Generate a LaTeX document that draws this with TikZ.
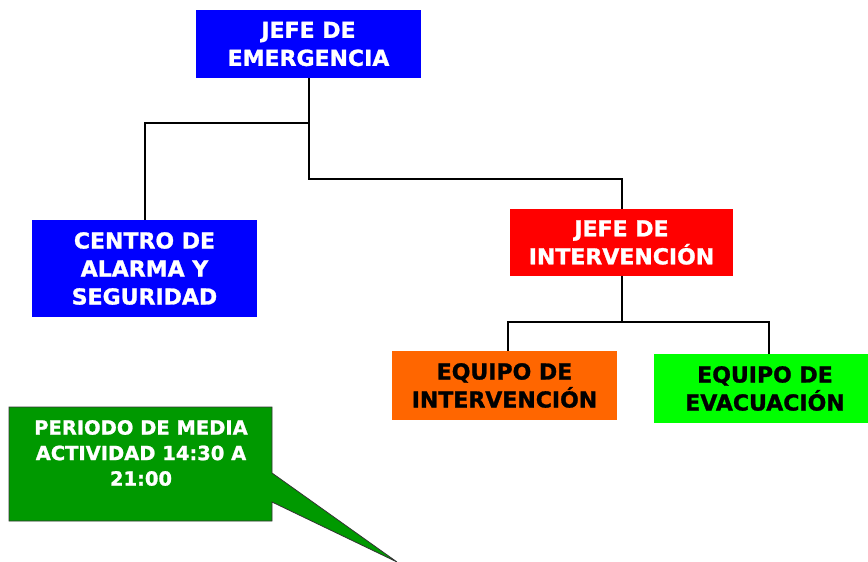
\documentclass[tikz,border=0pt]{standalone}
\usepackage{fontspec}
\setmainfont{DejaVu Sans}[BoldFeatures={FakeBold=1.2}]
\usetikzlibrary{calc}
\definecolor{cblue}{HTML}{0000FF}
\definecolor{cred}{HTML}{FF0000}
\definecolor{corange}{HTML}{FF6600}
\definecolor{clime}{HTML}{00FF00}
\definecolor{cdkgreen}{HTML}{009900}
\tikzset{
  orgbox/.style={inner sep=0pt, align=center, font=\fontsize{22}{28}\selectfont\bfseries},
  conn/.style={line width=2pt, black},
}
\begin{document}
\begin{tikzpicture}[x=1pt,y=-1pt]
\useasboundingbox[fill=white] (0,0) rectangle (868,562);
% boxes
\node[orgbox, fill=cblue, text=white, minimum width=225pt, minimum height=68pt] (jefe) at (308.5,44) {JEFE DE\\EMERGENCIA};
\node[orgbox, fill=cblue, text=white, minimum width=225pt, minimum height=97pt] (centro) at (144.5,268.5) {CENTRO DE\\ALARMA Y\\SEGURIDAD};
\node[orgbox, fill=cred, text=white, minimum width=223pt, minimum height=67pt] (jint) at (621.5,242.5) {JEFE DE\\INTERVENCIÓN};
\node[orgbox, fill=corange, text=black, minimum width=225pt, minimum height=69pt] (eqint) at (504.5,385.5) {EQUIPO DE\\INTERVENCIÓN};
\node[orgbox, fill=clime, text=black, minimum width=214pt, minimum height=69pt] (eqevac) at (761,388.5) {\hspace*{8pt}EQUIPO DE\\\hspace*{8pt}EVACUACIÓN};
% connectors
\coordinate (bl) at ($(jefe.south)+(0,45)$);
\coordinate (br) at ($(jefe.south)+(0,101)$);
\draw[conn] (jefe.south) -- (br) -| (jint.north);
\draw[conn] (bl) -| (centro.north);
\coordinate (jb) at ($(jint.south)+(0,46)$);
\draw[conn] (jint.south) -- (jb);
\draw[conn] ([xshift=3.5pt]eqint.north) |- (jb) -| ([xshift=8pt]eqevac.north);
% callout
\path[fill=cdkgreen, draw=black!80, line width=0.8pt]
  (9,407) -- (272,407) -- (272,473) -- (397,562) -- (272,502) -- (272,521) -- (9,521) -- cycle;
\node[inner sep=0pt, align=center, text=white, font=\fontsize{19.5}{25.5}\selectfont\bfseries] (ctext) at (141,453) {PERIODO DE MEDIA\\ACTIVIDAD 14:30 A\\21:00};
\end{tikzpicture}
\end{document}
